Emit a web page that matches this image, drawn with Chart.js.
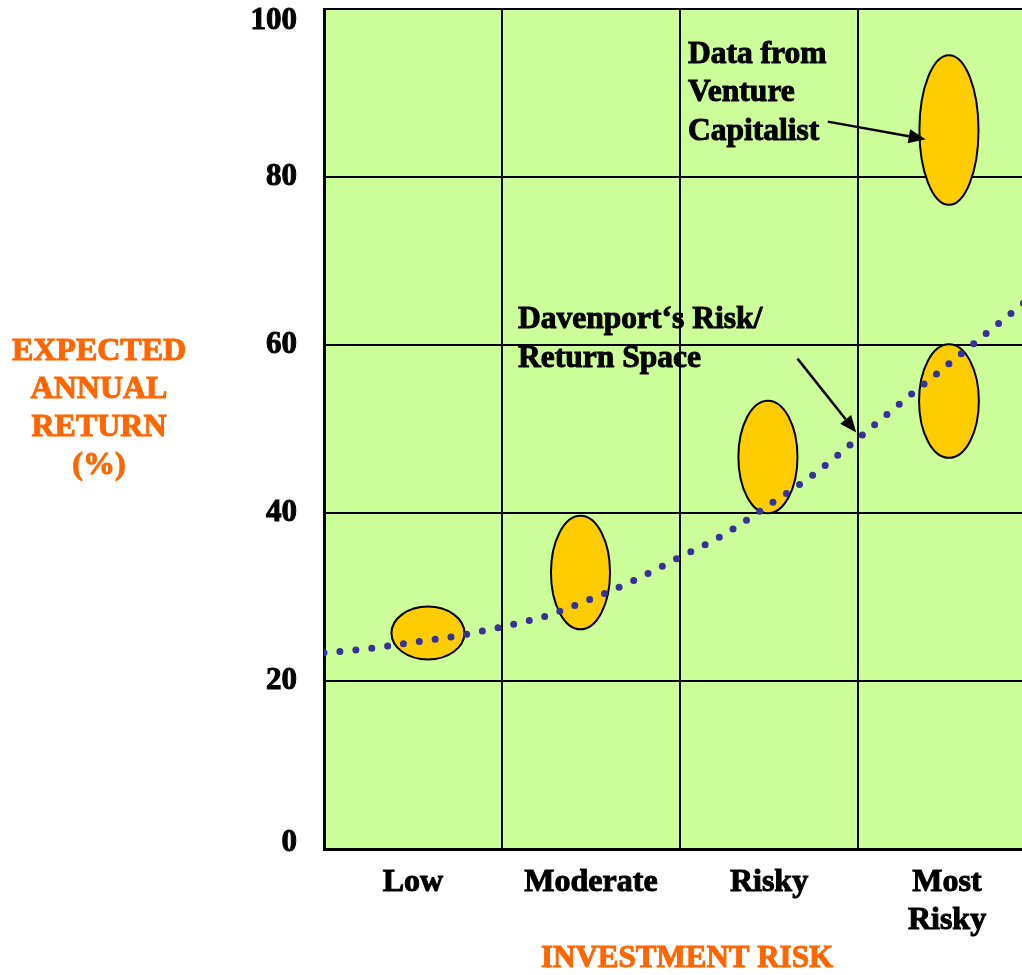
<!DOCTYPE html>
<html>
<head>
<meta charset="utf-8">
<title>Risk / Return</title>
<script src="https://cdn.jsdelivr.net/npm/chart.js@4.4.0/dist/chart.umd.min.js"></script>
<style>
  html, body { margin: 0; padding: 0; background: #fff; overflow: hidden; }
  #wrap { width: 1050px; height: 975px; }
</style>
</head>
<body>
<div id="wrap"><canvas id="riskChart" width="1050" height="975"></canvas></div>
<script>
// ===== Data =====
const riskLevels = ['Low', 'Moderate', 'Risky', ['Most', 'Risky']];
const yTicks = [0, 20, 40, 60, 80, 100];

// Davenport's risk/return trend (x = position along risk axis, y = % return)
const trendRisk   = [0, 0.25, 0.5, 0.75, 1.0, 1.25, 1.5, 1.75, 2.0, 2.25, 2.5, 2.75, 3.0, 3.25, 3.5, 3.75, 4.0];
const trendReturn = [23.4, 23.9, 24.65, 25.4, 26.5, 27.8, 29.8, 32.1, 34.8, 37.5, 41.0, 44.6, 48.9, 53.3, 57.6, 61.9, 66.2];

// Ovals: centre on risk axis, half width, return range
const ovalRisk   = [0.584, 1.441, 2.494, 3.511, 3.511];
const ovalSpread = [0.205, 0.166, 0.166, 0.166, 0.168];
const ovalLow    = [22.6, 26.2, 40.0, 76.7, 46.6];
const ovalHigh   = [28.9, 39.7, 53.4, 94.5, 60.1];

const colors = {
  plot: '#CCFF99',
  oval: '#FFCC00',
  trend: '#333399',
  title: '#FF6600',
  ink: '#000000'
};
const serif = "'Liberation Serif', 'Times New Roman', serif";

// Notes with arrows (anchored in data units)
const notes = [
  { lines: ['Data from', 'Venture', 'Capitalist'], risk: 2.045, ret: 93.6, from: [2.83, 86.6], to: [3.38, 84.5] },
  { lines: ['Davenport\u2018s Risk/', 'Return Space'], risk: 1.09, ret: 62.0, from: [2.66, 58.4], to: [2.99, 49.6] }
];

// ========= Plugins =========
const plotBackground = {
  id: 'plotBackground',
  beforeDraw(chart) {
    const { ctx, chartArea: a } = chart;
    ctx.save();
    ctx.fillStyle = colors.plot;
    ctx.fillRect(a.left, a.top, a.right - a.left, a.bottom - a.top);
    ctx.restore();
  }
};

const ovals = {
  id: 'ovals',
  beforeDatasetsDraw(chart) {
    const { ctx, scales: { x, y } } = chart;
    ctx.save();
    ovalRisk.forEach((r, i) => {
      const cx = x.getPixelForValue(r);
      const rx = x.getPixelForValue(r + ovalSpread[i]) - cx;
      const top = y.getPixelForValue(ovalHigh[i]);
      const bot = y.getPixelForValue(ovalLow[i]);
      ctx.beginPath();
      ctx.ellipse(cx, (top + bot) / 2, rx, (bot - top) / 2, 0, 0, Math.PI * 2);
      ctx.fillStyle = colors.oval;
      ctx.fill();
      ctx.lineWidth = 2;
      ctx.strokeStyle = colors.ink;
      ctx.stroke();
    });
    ctx.restore();
  }
};

// bold text with a thin outline so it reads as heavy as the original
function heavyText(ctx, text, x, y) {
  ctx.fillText(text, x, y);
  ctx.strokeText(text, x, y);
}

function drawArrow(ctx, x1, y1, x2, y2) {
  const ang = Math.atan2(y2 - y1, x2 - x1);
  const head = 17, half = 7;
  const bx = x2 - head * Math.cos(ang), by = y2 - head * Math.sin(ang);
  ctx.beginPath();
  ctx.moveTo(x1, y1);
  ctx.lineTo(bx, by);
  ctx.lineWidth = 2.5;
  ctx.stroke();
  ctx.beginPath();
  ctx.moveTo(x2, y2);
  ctx.lineTo(bx + half * Math.sin(ang), by - half * Math.cos(ang));
  ctx.lineTo(bx - half * Math.sin(ang), by + half * Math.cos(ang));
  ctx.closePath();
  ctx.fill();
}

const annotations = {
  id: 'annotations',
  afterDatasetsDraw(chart) {
    const { ctx, scales: { x, y } } = chart;
    ctx.save();
    ctx.fillStyle = colors.ink;
    ctx.strokeStyle = colors.ink;
    ctx.font = `bold 31.5px ${serif}`;
    ctx.textAlign = 'left';
    ctx.textBaseline = 'alphabetic';
    notes.forEach(n => {
      const tx = x.getPixelForValue(n.risk);
      const ty = y.getPixelForValue(n.ret);
      ctx.lineWidth = 1;
      n.lines.forEach((line, i) => heavyText(ctx, line, tx, ty + i * 38.5));
      drawArrow(ctx,
        x.getPixelForValue(n.from[0]), y.getPixelForValue(n.from[1]),
        x.getPixelForValue(n.to[0]), y.getPixelForValue(n.to[1]));
    });
    ctx.restore();
  }
};

const axisText = {
  id: 'axisText',
  afterDraw(chart) {
    const { ctx, chartArea: a, scales: { y } } = chart;
    ctx.save();
    // y tick labels
    ctx.fillStyle = colors.ink;
    ctx.strokeStyle = colors.ink;
    ctx.lineWidth = 1;
    ctx.font = `bold 31px ${serif}`;
    ctx.textAlign = 'right';
    ctx.textBaseline = 'middle';
    yTicks.forEach(v => {
      let py = y.getPixelForValue(v);
      py = Math.min(Math.max(py, a.top + 12), a.bottom - 7);
      heavyText(ctx, String(v), a.left - 27, py);
    });
    // axis titles
    ctx.fillStyle = colors.title;
    ctx.strokeStyle = colors.title;
    ctx.font = `bold 32px ${serif}`;
    ctx.textAlign = 'center';
    ['EXPECTED', 'ANNUAL', 'RETURN', '(%)'].forEach((t, i) => {
      heavyText(ctx, t, a.left - 225, 352 + i * 38);
    });
    ctx.font = `bold 31px ${serif}`;
    heavyText(ctx, 'INVESTMENT RISK', 687, 959);
    ctx.restore();
  }
};

// ========= Chart =========
new Chart(document.getElementById('riskChart'), {
  type: 'scatter',
  data: {
    datasets: [{
      label: 'Risk/Return Space',
      data: trendRisk.map((r, i) => ({ x: r, y: trendReturn[i] })),
      showLine: true,
      borderColor: colors.trend,
      borderWidth: 7,
      borderDash: [0, 16],
      borderCapStyle: 'round',
      cubicInterpolationMode: 'monotone',
      pointRadius: 0,
      pointHoverRadius: 0
    }]
  },
  options: {
    responsive: false,
    animation: false,
    layout: { padding: { top: 9, right: 4, left: 0, bottom: 0 } },
    plugins: {
      legend: { display: false },
      tooltip: { enabled: false }
    },
    scales: {
      x: {
        type: 'linear',
        min: 0,
        max: 4,
        afterFit: (s) => { s.height = 125.5; },
        border: { color: colors.ink, width: 3 },
        grid: {
          color: (c) => (c.tick && c.tick.value % 1 === 0 ? colors.ink : 'rgba(0,0,0,0)'),
          lineWidth: 2,
          drawTicks: false
        },
        ticks: {
          stepSize: 0.5,
          autoSkip: false,
          maxRotation: 0,
          padding: 14,
          color: colors.ink,
          textStrokeColor: colors.ink,
          textStrokeWidth: 1,
          font: { family: serif, size: 32, weight: 'bold', lineHeight: 1.2 },
          callback: (v) => (v % 1 === 0.5 ? riskLevels[Math.floor(v)] : '')
        }
      },
      y: {
        min: 0,
        max: 100,
        afterFit: (s) => { s.width = 324; },
        border: { color: colors.ink, width: 3 },
        grid: { color: colors.ink, lineWidth: 2, drawTicks: false },
        ticks: { stepSize: 20, display: false }
      }
    }
  },
  plugins: [plotBackground, ovals, annotations, axisText]
});
</script>
</body>
</html>
